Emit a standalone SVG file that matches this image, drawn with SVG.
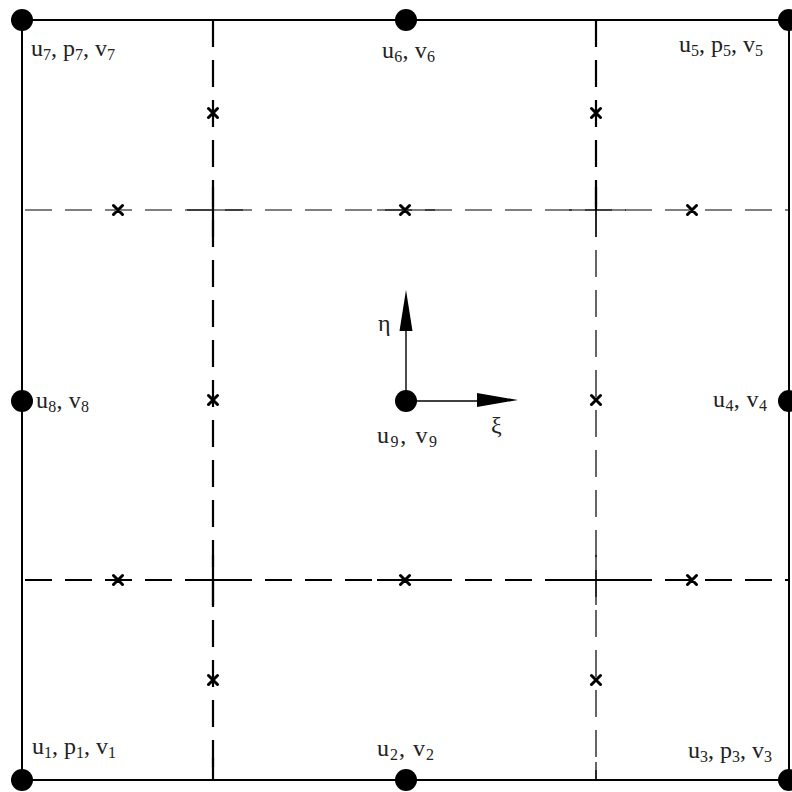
<svg xmlns="http://www.w3.org/2000/svg" width="792" height="792" viewBox="0 0 792 792">
<style>
.bd{stroke:#000;stroke-width:2;fill:none}
.dt{stroke:#000;stroke-width:1.2;fill:none;stroke-dasharray:27 13}
.dk{stroke:#000;stroke-width:2.2;fill:none;stroke-dasharray:27 13}
.sd{stroke:#000;fill:none}
.mk{stroke:#000;stroke-width:3;stroke-linecap:round;fill:none}
.nd{fill:#000}
.lb{font-family:"Liberation Serif","Times New Roman",serif;font-size:24px;fill:#222}
.sb{font-size:16px}
.ax{stroke:#000;stroke-width:1.4}
</style>
<rect width="792" height="792" fill="#fff"/>
<g id="connectors">
  <!-- element border -->
  <path class="bd" d="M22 20 H789 V780 H22 Z"/>
  <!-- dashed horizontal lines -->
  <path class="dt" d="M22 210 H789" stroke-dashoffset="37"/>
  <path class="dk" d="M22 580 H789" stroke-dashoffset="37"/>
  <!-- dashed vertical lines -->
  <path class="dk" d="M213 20 V780"/>
  <path class="dk" d="M596 20 V210"/>
  <path class="dt" d="M596 210 V780"/>
  <!-- solid crossings and ends -->
  <path class="sd" stroke-width="1.2" d="M187 210 H243 M377 210 H435 M569 210 H626"/>
  <path class="sd" stroke-width="2.2" d="M187 580 H243 M377 580 H435 M569 580 H626"/>
  <path class="sd" stroke-width="2.2" d="M213 187 V237 M213 555 V605 M596 187 V210 M213 758 V780"/>
  <path class="sd" stroke-width="1.2" d="M596 210 V237 M596 555 V605 M596 762 V780"/>
  <!-- local axes -->
  <line class="ax" x1="406" y1="401" x2="406" y2="328"/>
  <polygon class="nd" points="406,290 399.5,331 412.5,331"/>
  <line class="ax" x1="406" y1="401" x2="480" y2="401"/>
  <polygon class="nd" points="518,400 477,393 477,407"/>
</g>
<g id="markers">
  <path class="mk" d="M113.5 205.5 l9 9 m0 -9 l-9 9 M400.5 205.5 l9 9 m0 -9 l-9 9 M687.5 205.5 l9 9 m0 -9 l-9 9"/>
  <path class="mk" d="M113.5 575.5 l9 9 m0 -9 l-9 9 M400.5 575.5 l9 9 m0 -9 l-9 9 M687.5 575.5 l9 9 m0 -9 l-9 9"/>
  <path class="mk" d="M208.5 108.5 l9 9 m0 -9 l-9 9 M208.5 395.5 l9 9 m0 -9 l-9 9 M208.5 675.5 l9 9 m0 -9 l-9 9"/>
  <path class="mk" d="M591.5 108.5 l9 9 m0 -9 l-9 9 M591.5 395.5 l9 9 m0 -9 l-9 9 M591.5 675.5 l9 9 m0 -9 l-9 9"/>
</g>
<g id="node1"><circle class="nd" cx="22" cy="780" r="11"/>
  <text class="lb" x="32" y="754">u<tspan class="sb" dy="4">1</tspan><tspan dy="-4">, p</tspan><tspan class="sb" dy="4">1</tspan><tspan dy="-4">, v</tspan><tspan class="sb" dy="4">1</tspan></text></g>
<g id="node2"><circle class="nd" cx="406" cy="780" r="11"/>
  <text class="lb" x="377" y="756" textLength="57" lengthAdjust="spacing">u<tspan class="sb" dy="4">2</tspan><tspan dy="-4">, v</tspan><tspan class="sb" dy="4">2</tspan></text></g>
<g id="node3"><circle class="nd" cx="789" cy="780" r="11"/>
  <text class="lb" x="688" y="758">u<tspan class="sb" dy="4">3</tspan><tspan dy="-4">, p</tspan><tspan class="sb" dy="4">3</tspan><tspan dy="-4">, v</tspan><tspan class="sb" dy="4">3</tspan></text></g>
<g id="node4"><circle class="nd" cx="789" cy="401" r="11"/>
  <text class="lb" x="713" y="407" textLength="54" lengthAdjust="spacing">u<tspan class="sb" dy="4">4</tspan><tspan dy="-4">, v</tspan><tspan class="sb" dy="4">4</tspan></text></g>
<g id="node5"><circle class="nd" cx="789" cy="20" r="11"/>
  <text class="lb" x="679" y="52">u<tspan class="sb" dy="4">5</tspan><tspan dy="-4">, p</tspan><tspan class="sb" dy="4">5</tspan><tspan dy="-4">, v</tspan><tspan class="sb" dy="4">5</tspan></text></g>
<g id="node6"><circle class="nd" cx="406" cy="20" r="11"/>
  <text class="lb" x="382" y="58" textLength="53" lengthAdjust="spacing">u<tspan class="sb" dy="4">6</tspan><tspan dy="-4">, v</tspan><tspan class="sb" dy="4">6</tspan></text></g>
<g id="node7"><circle class="nd" cx="22" cy="20" r="11"/>
  <text class="lb" x="31" y="56">u<tspan class="sb" dy="4">7</tspan><tspan dy="-4">, p</tspan><tspan class="sb" dy="4">7</tspan><tspan dy="-4">, v</tspan><tspan class="sb" dy="4">7</tspan></text></g>
<g id="node8"><circle class="nd" cx="22" cy="401" r="11"/>
  <text class="lb" x="36" y="408" textLength="53" lengthAdjust="spacing">u<tspan class="sb" dy="4">8</tspan><tspan dy="-4">, v</tspan><tspan class="sb" dy="4">8</tspan></text></g>
<g id="node9"><circle class="nd" cx="406" cy="401" r="11"/>
  <text class="lb" x="377" y="443" textLength="60" lengthAdjust="spacing">u<tspan class="sb" dy="4">9</tspan><tspan dy="-4">, v</tspan><tspan class="sb" dy="4">9</tspan></text></g>
<g id="axis-labels">
  <text class="lb" x="378" y="331">η</text>
  <text class="lb" x="491" y="433">ξ</text>
</g>
</svg>
